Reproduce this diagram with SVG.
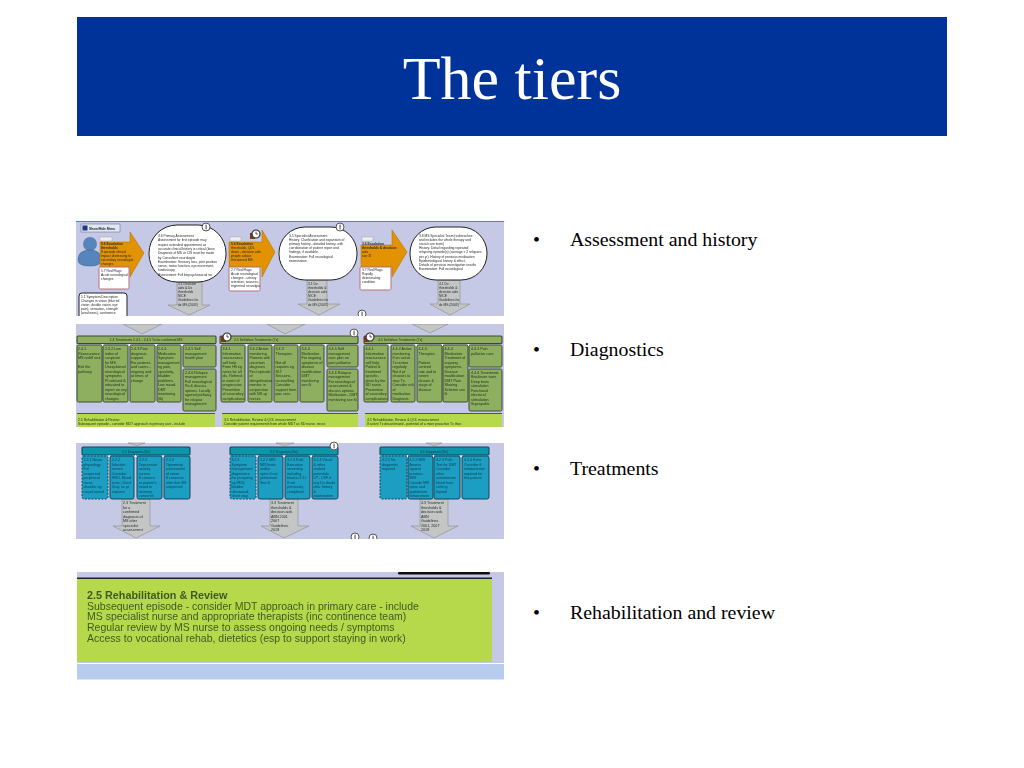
<svg xmlns="http://www.w3.org/2000/svg" width="1024" height="768" viewBox="0 0 1024 768">
<defs>
<filter id="soft" x="-2%" y="-2%" width="104%" height="104%"><feGaussianBlur stdDeviation="0.35"/></filter>
<g id="info"><circle r="4" fill="#fff" stroke="#555" stroke-width="1"/><rect x="-0.5" y="-2.4" width="1.1" height="4.8" fill="#555"/></g>
<g id="clock"><rect x="-6" y="-1" width="5" height="6" fill="#7a3a10"/><circle r="4" fill="#fff" stroke="#333" stroke-width="1.2"/><path d="M0-2.5V0H2" fill="none" stroke="#333" stroke-width=".8"/></g>
</defs>
<style>
.bg{fill:#c6c9e6}
.t{font-family:"Liberation Sans",Arial,sans-serif;font-size:3.3px;fill:#2a2a2a}
.a{font-family:"Liberation Sans",Arial,sans-serif;font-size:3.7px;fill:#2a2a2a}
.d{font-family:"Liberation Sans",Arial,sans-serif;font-size:3.6px;fill:#123f52}
.g{font-family:"Liberation Sans",Arial,sans-serif;font-size:3.7px;fill:#24351a}
.s{font-family:"Liberation Sans",Arial,sans-serif;font-size:3.4px;fill:#24351a}
.bub{fill:#fff;stroke:#222;stroke-width:1}
.org{fill:#e39200;stroke:#a86c00;stroke-width:.5}
.flag{fill:#fff;stroke:#b8707a;stroke-width:1}
.arr{fill:#c4c6c6;stroke:#8a8a8a;stroke-width:.6}
.hg{fill:#8eae60;stroke:#3c4c34;stroke-width:1.1}
.bg2{fill:#8eae60;stroke:#3c4c34;stroke-width:1}
.ht{fill:#0c95aa;stroke:#17475a;stroke-width:1.1}
.bt{fill:#1d9dc2;stroke:#17475a;stroke-width:1}
.dash{fill:#1d9dc2;stroke:#17475a;stroke-width:1;stroke-dasharray:2 1.3}
.lime{fill:#b6d94c}
.bar{fill:#4a5a40}
.k{fill:#fff}
.ttl{font-family:"Liberation Serif","Times New Roman",serif;font-size:62px;fill:#fff}
.bl{font-family:"Liberation Serif","Times New Roman",serif;font-size:19.85px;fill:#000}
.r{font-family:"Liberation Sans",Arial,sans-serif;font-size:10.5px;fill:#3d5a22}
</style>
<rect width="1024" height="768" fill="#fff"/>
<g id="title"><rect x="77" y="17" width="870" height="119" fill="#003399"/><text class="ttl" x="512" y="99" text-anchor="middle">The tiers</text></g>
<g id="bullets">
<g id="bullet-1"><text class="bl" x="533" y="246">•</text><text class="bl" x="570" y="246">Assessment and history</text></g>
<g id="bullet-2"><text class="bl" x="533" y="356">•</text><text class="bl" x="570" y="356">Diagnostics</text></g>
<g id="bullet-3"><text class="bl" x="533" y="475">•</text><text class="bl" x="570" y="475">Treatments</text></g>
<g id="bullet-4"><text class="bl" x="533" y="619">•</text><text class="bl" x="570" y="619">Rehabilitation and review</text></g>
</g>
<g filter="url(#soft)">
<rect class="bg" x="76" y="221" width="428" height="95"/>
<rect x="76" y="221" width="428" height="1" fill="#2a9a9a"/>
<rect class="bg" x="76" y="324" width="428" height="103"/>
<rect class="bg" x="76" y="443" width="428" height="96"/>
<g id="connectors">
<polygon class="arr" points="177,282 202,282 202,305 210,305 189,315 168,305 177,305"/>
<polygon class="arr" points="307,280 327,280 327,304 340,304 319,315 298,304 307,304"/>
<polygon class="arr" points="438,280 460,280 460,304 470,304 450,315 430,304 438,304"/>
<polygon class="arr" points="123,324 162,324 142,334"/>
<polygon class="arr" points="267,324 305,324 285,334"/>
<polygon class="arr" points="412,324 448,324 430,333"/>
<polygon class="arr" points="128,443 145,443 137,445.500"/>
<polygon class="arr" points="276,443 294,443 285,445.500"/>
<polygon class="arr" points="426,443 442,443 434,445.500"/>
<polygon class="arr" points="122,499 150,499 150,526 160,526 136,538 113,526 122,526"/>
<polygon class="arr" points="270,499 298,499 298,526 309,526 284,538 261,526 270,526"/>
<polygon class="arr" points="420,499 448,499 448,526 458,526 434,538 411,526 420,526"/>
</g>
<g id="menu"><rect x="81" y="224" width="39" height="8" fill="#dfe6f4" stroke="#667" stroke-width=".5"/><rect x="82.500" y="225.500" width="5" height="5" fill="#123a8a"/><text class="t" x="89" y="229.500" style="font-weight:bold">Show/Hide Menu</text></g>
<g id="person"><circle cx="90" cy="244" r="7" fill="#5585bb"/><path d="M78 260Q78 250 90 250Q101 250 101 260Q101 266 90 266Q78 266 78 260Z" fill="#5585bb" stroke="#2f5a8a" stroke-width=".5"/></g>
<g id="symptom"><rect x="79" y="293" width="48" height="26" rx="3" fill="#fff" stroke="#222"/><text class="t" x="81" y="298">5.1 Symptom Description<tspan x="81" dy="4.100">Changes in vision (blurred</tspan><tspan x="81" dy="4.100">vision, double vision, eye</tspan><tspan x="81" dy="4.100">pain), sensation, strength</tspan><tspan x="81" dy="4.100">(weakness), continence</tspan></text></g>
<g id="escalation-1"><polygon class="org" points="100,242 130,242 130,232 144,253 130,277 130,267 100,267"/><rect x="100" y="237" width="12" height="4" fill="#eee" stroke="#999" stroke-width=".4"/><text class="t" x="101" y="245" style="font-weight:bold">5.6 Escalation<tspan x="101" dy="3.900">thresholds</tspan><tspan x="101" dy="3.900" style="font-weight:normal">If episode clinical</tspan><tspan x="101" dy="3.900" style="font-weight:normal">impact distressing to</tspan><tspan x="101" dy="3.900" style="font-weight:normal">secondary neurologist</tspan><tspan x="101" dy="3.900" style="font-weight:normal">changes</tspan></text></g>
<g id="flag-1"><rect class="flag" x="99" y="267" width="30" height="22" rx="1.500"/><text class="t" x="101" y="272">5.7 Red Flags<tspan x="101" dy="4">Acute neurological</tspan><tspan x="101" dy="4">changes</tspan></text></g>
<g id="primary"><rect class="bub" x="149" y="225" width="77" height="57" rx="28"/><text class="t" x="158" y="237">3.6 Primary Assessment<tspan x="158" dy="4.300">Assessment for first episode may</tspan><tspan x="158" dy="4.300">require extended appointment as</tspan><tspan x="158" dy="4.300">accurate clinical history is critical (base</tspan><tspan x="158" dy="4.300">Diagnosis of MS or CIS must be made</tspan><tspan x="158" dy="4.300">by Consultant neurologist</tspan><tspan x="158" dy="4.300">Examination: Sensory loss, joint position</tspan><tspan x="158" dy="4.300">sense, motor function, eye movement,</tspan><tspan x="158" dy="4.300">fundoscopy</tspan><tspan x="158" dy="4.300">Assessment: Full biopsychosocial inc</tspan></text><use href="#info" x="206" y="227"/></g>
<g id="decision-1"><text class="t" x="178" y="284.500">3.1 Decision<tspan x="178" dy="4.200">aids &amp; Dx</tspan><tspan x="178" dy="4.200">thresholds</tspan><tspan x="178" dy="4.200">NICE</tspan><tspan x="178" dy="4.200">Guidelines for</tspan><tspan x="178" dy="4.200">dx MS (2003)</tspan></text></g>
<g id="escalation-2"><polygon class="org" points="229,242 262,242 262,230 275,252 262,277 262,267 229,267"/><rect x="230" y="237" width="11" height="4" fill="#eee" stroke="#999" stroke-width=".4"/><text class="t" x="231" y="245" style="font-weight:bold">5.6 Escalation<tspan x="231" dy="4" style="font-weight:normal">thresholds, QDL</tspan><tspan x="231" dy="4" style="font-weight:normal">down - decision aids</tspan><tspan x="231" dy="4" style="font-weight:normal">people advice</tspan><tspan x="231" dy="4" style="font-weight:normal">threatened MS</tspan></text><use href="#clock" x="256" y="234"/></g>
<g id="flag-2"><rect class="flag" x="229" y="267" width="31" height="24" rx="1.500"/><text class="t" x="231" y="271">2.7 Red Flags<tspan x="231" dy="4">Acute neurological</tspan><tspan x="231" dy="4">changes - urinary</tspan><tspan x="231" dy="4">retention, seizures,</tspan><tspan x="231" dy="4">trigeminal neuralgia</tspan></text></g>
<g id="specialist"><rect class="bub" x="279" y="227" width="78" height="53" rx="26"/><text class="t" x="289" y="237">3.5 Specialist Assessment<tspan x="289" dy="4.100">History: Clarification and expansion of</tspan><tspan x="289" dy="4.100">primary history - detailed history, with</tspan><tspan x="289" dy="4.100">corroboration of patient report and</tspan><tspan x="289" dy="4.100">findings, if available.</tspan><tspan x="289" dy="4.100">Examination: Full neurological</tspan><tspan x="289" dy="4.100">examination</tspan></text><use href="#info" x="340" y="227"/></g>
<g id="decision-2"><text class="t" x="308" y="284.500">3.1 Dx<tspan x="308" dy="4.200">thresholds &amp;</tspan><tspan x="308" dy="4.200">decision aids</tspan><tspan x="308" dy="4.200">NICE</tspan><tspan x="308" dy="4.200">Guidelines for</tspan><tspan x="308" dy="4.200">dx MS (2003)</tspan></text></g>
<g id="escalation-3"><polygon class="org" points="361,245 392,245 392,230 407,252 392,277 392,267 361,267"/><rect x="362" y="237" width="11" height="4" fill="#eee" stroke="#999" stroke-width=".4"/><text class="t" x="362" y="245" style="font-weight:bold">3.6 Escalation<tspan x="362" dy="4">thresholds &amp; decision</tspan><tspan x="362" dy="4" style="font-weight:normal">aids</tspan><tspan x="362" dy="4" style="font-weight:normal">see 3I</tspan></text></g>
<g id="flag-3"><rect class="flag" x="360" y="267" width="31" height="23" rx="1.500"/><text class="t" x="362" y="271">3.7 Red Flags<tspan x="362" dy="4">Rapidly</tspan><tspan x="362" dy="4">deteriorating</tspan><tspan x="362" dy="4">condition</tspan></text></g>
<g id="ms-team"><rect class="bub" x="410" y="227" width="77" height="53" rx="26"/><text class="t" x="419" y="237">3.8 MS Specialist Team (subreaches<tspan x="419" dy="4.100">and includes the whole therapy and</tspan><tspan x="419" dy="4.100">social care team)</tspan><tspan x="419" dy="4.100">History: Detail regarding repeated</tspan><tspan x="419" dy="4.100">relapsing episode(s) (average &gt; 2 relapses</tspan><tspan x="419" dy="4.100">per yr). History of previous medication</tspan><tspan x="419" dy="4.100">Epidemiological history &amp; effect.</tspan><tspan x="419" dy="4.100">Details of previous investigation results</tspan><tspan x="419" dy="4.100">Examination: Full neurological</tspan></text></g>
<g id="decision-3"><text class="t" x="439" y="284.500">4.1 Dx<tspan x="439" dy="4.200">thresholds &amp;</tspan><tspan x="439" dy="4.200">decision aids</tspan><tspan x="439" dy="4.200">NICE</tspan><tspan x="439" dy="4.200">Guidelines for</tspan><tspan x="439" dy="4.200">dx MS (2003)</tspan></text></g>
<use href="#info" x="362" y="314"/>
<rect x="76" y="316" width="430" height="8" fill="#fff"/>
<g id="tx-1">
<rect class="hg" x="77" y="336" width="139" height="7.500" rx="1"/><text class="s" x="146" y="341" text-anchor="middle">2.4 Treatments 2.4.1 - 2.4.5 To for confirmed MS</text>
<rect class="bg2" x="77" y="345" width="25" height="57" rx="1.500"/><text class="g" x="78" y="350">2.4.1<tspan x="78" dy="4.500">Reassurance</tspan><tspan x="78" dy="4.500">MS nidell visit</tspan><tspan x="78" dy="9">Exit the</tspan><tspan x="78" dy="4.500">pathway</tspan></text>
<rect class="bg2" x="103" y="345" width="25" height="57" rx="1.500"/><text class="g" x="105" y="350">2.4.2 Low<tspan x="105" dy="4.500">index of</tspan><tspan x="105" dy="4.500">suspicion</tspan><tspan x="105" dy="4.500">for MS</tspan><tspan x="105" dy="4.500">Unexplained</tspan><tspan x="105" dy="4.500">neurological</tspan><tspan x="105" dy="4.500">symptoms</tspan><tspan x="105" dy="4.500">Pt advised &amp;</tspan><tspan x="105" dy="4.500">educated to</tspan><tspan x="105" dy="4.500">report on any</tspan><tspan x="105" dy="4.500">neurological</tspan><tspan x="105" dy="4.500">changes</tspan></text>
<rect class="bg2" x="130" y="345" width="25" height="57" rx="1.500"/><text class="g" x="131" y="350">2.4.3 Post<tspan x="131" dy="4.500">diagnosis</tspan><tspan x="131" dy="4.500">support</tspan><tspan x="131" dy="4.500">For patients</tspan><tspan x="131" dy="4.500">and carers -</tspan><tspan x="131" dy="4.500">ongoing and</tspan><tspan x="131" dy="4.500">at times of</tspan><tspan x="131" dy="4.500">change</tspan></text>
<rect class="bg2" x="157" y="345" width="24" height="57" rx="1.500"/><text class="g" x="158" y="350">2.4.4<tspan x="158" dy="4.500">Medication</tspan><tspan x="158" dy="4.500">Symptom</tspan><tspan x="158" dy="4.500">management</tspan><tspan x="158" dy="4.500">eg pain,</tspan><tspan x="158" dy="4.500">spasticity,</tspan><tspan x="158" dy="4.500">bladder</tspan><tspan x="158" dy="4.500">problems.</tspan><tspan x="158" dy="4.500">Low mood.</tspan><tspan x="158" dy="4.500">DMT</tspan><tspan x="158" dy="4.500">monitoring</tspan><tspan x="158" dy="4.500">(6i)</tspan></text>
<rect class="bg2" x="183" y="345" width="33" height="22" rx="1.500"/><text class="g" x="185" y="350">2.4.5 Self<tspan x="185" dy="4.500">management</tspan><tspan x="185" dy="4.500">health plan</tspan></text>
<rect class="bg2" x="183" y="369" width="33" height="42" rx="1.500"/><text class="g" x="185" y="373.500">2.4.6 Relapse<tspan x="185" dy="4.500">management</tspan><tspan x="185" dy="4.500">Full neurological</tspan><tspan x="185" dy="4.500">Rx &amp; discuss</tspan><tspan x="185" dy="4.500">options. Locally</tspan><tspan x="185" dy="4.500">agreed pathway</tspan><tspan x="185" dy="4.500">for relapse</tspan><tspan x="185" dy="4.500">management</tspan></text>
<rect class="k" x="102" y="344" width="1.200" height="2"/><rect class="k" x="128.800" y="344" width="1.200" height="2"/><rect class="k" x="155.500" y="344" width="1.200" height="2"/><rect class="k" x="181.500" y="344" width="1.200" height="2"/>
</g>
<g id="tx-2">
<rect class="hg" x="220" y="336" width="138" height="7.500" rx="1"/><text class="s" x="234" y="341">2.4 Definitive Treatments (Tx)</text><use href="#clock" x="227" y="337"/>
<rect class="bg2" x="221" y="345" width="24" height="57" rx="1.500"/><text class="g" x="222.500" y="350">3.4.1<tspan x="222.500" dy="4.500">Information</tspan><tspan x="222.500" dy="4.500">reassurance</tspan><tspan x="222.500" dy="4.500">self help</tspan><tspan x="222.500" dy="4.500">From HIt eg</tspan><tspan x="222.500" dy="4.500">notes for all</tspan><tspan x="222.500" dy="4.500">dis. Referral</tspan><tspan x="222.500" dy="4.500">in event of</tspan><tspan x="222.500" dy="4.500">progressive.</tspan><tspan x="222.500" dy="4.500">Prevention</tspan><tspan x="222.500" dy="4.500">of secondary</tspan><tspan x="222.500" dy="4.500">complications</tspan></text>
<rect class="bg2" x="248" y="345" width="24" height="57" rx="1.500"/><text class="g" x="249.500" y="350">3.4.2 Active<tspan x="249.500" dy="4.500">monitoring</tspan><tspan x="249.500" dy="4.500">Patients with</tspan><tspan x="249.500" dy="4.500">uncertain</tspan><tspan x="249.500" dy="4.500">diagnosis</tspan><tspan x="249.500" dy="4.500">First episode</tspan><tspan x="249.500" dy="4.500">of</tspan><tspan x="249.500" dy="4.500">demyelination</tspan><tspan x="249.500" dy="4.500">monitor in</tspan><tspan x="249.500" dy="4.500">conjunction</tspan><tspan x="249.500" dy="4.500">with NS sp</tspan><tspan x="249.500" dy="4.500">nurses</tspan></text>
<rect class="bg2" x="274" y="345" width="24" height="57" rx="1.500"/><text class="g" x="275.500" y="350">3.4.3<tspan x="275.500" dy="4.500">Therapies</tspan><tspan x="275.500" dy="9">Not all</tspan><tspan x="275.500" dy="4.500">requires eg</tspan><tspan x="275.500" dy="4.500">SLT</tspan><tspan x="275.500" dy="4.500">Sessions,</tspan><tspan x="275.500" dy="4.500">counselling</tspan><tspan x="275.500" dy="4.500">Consider</tspan><tspan x="275.500" dy="4.500">support from</tspan><tspan x="275.500" dy="4.500">pwc serv.</tspan></text>
<rect class="bg2" x="300" y="345" width="24" height="57" rx="1.500"/><text class="g" x="301.500" y="350">3.4.4<tspan x="301.500" dy="4.500">Medication</tspan><tspan x="301.500" dy="4.500">For ongoing</tspan><tspan x="301.500" dy="4.500">symptoms of</tspan><tspan x="301.500" dy="4.500">disease</tspan><tspan x="301.500" dy="4.500">modification</tspan><tspan x="301.500" dy="4.500">DMT</tspan><tspan x="301.500" dy="4.500">monitoring</tspan><tspan x="301.500" dy="4.500">see 6i</tspan></text>
<rect class="bg2" x="327" y="345" width="31" height="22" rx="1.500"/><text class="g" x="328.500" y="350">3.4.5 Self<tspan x="328.500" dy="4.500">management</tspan><tspan x="328.500" dy="4.500">care plan on</tspan><tspan x="328.500" dy="4.500">pain palliative</tspan></text>
<rect class="bg2" x="327" y="369" width="31" height="42" rx="1.500"/><text class="g" x="328.500" y="373.500">3.4.6 Relapse<tspan x="328.500" dy="4.500">management</tspan><tspan x="328.500" dy="4.500">For neurological</tspan><tspan x="328.500" dy="4.500">assessment &amp;</tspan><tspan x="328.500" dy="4.500">discuss options.</tspan><tspan x="328.500" dy="4.500">Medication - DMT</tspan><tspan x="328.500" dy="4.500">monitoring see 6i</tspan></text>
<rect class="k" x="246" y="344" width="1.200" height="2"/><rect class="k" x="272.500" y="344" width="1.200" height="2"/><rect class="k" x="298.500" y="344" width="1.200" height="2"/><rect class="k" x="325" y="344" width="1.200" height="2"/>
<use href="#info" x="354" y="333"/>
</g>
<g id="tx-3">
<rect class="hg" x="364" y="336" width="138" height="7.500" rx="1"/><text class="s" x="378" y="341">4.4 Definitive Treatments (Tx)</text><use href="#clock" x="370" y="337"/>
<rect class="bg2" x="364" y="345" width="24" height="57" rx="1.500"/><text class="g" x="365.500" y="350">4.4.1<tspan x="365.500" dy="4.500">Information</tspan><tspan x="365.500" dy="4.500">reassurance</tspan><tspan x="365.500" dy="4.500">self help</tspan><tspan x="365.500" dy="4.500">Patient &amp;</tspan><tspan x="365.500" dy="4.500">treatment</tspan><tspan x="365.500" dy="4.500">specific,</tspan><tspan x="365.500" dy="4.500">given by the</tspan><tspan x="365.500" dy="4.500">SD nurse.</tspan><tspan x="365.500" dy="4.500">Prevention</tspan><tspan x="365.500" dy="4.500">of secondary</tspan><tspan x="365.500" dy="4.500">complications</tspan></text>
<rect class="bg2" x="391" y="345" width="24" height="57" rx="1.500"/><text class="g" x="392.500" y="350">4.4.2 Active<tspan x="392.500" dy="4.500">monitoring</tspan><tspan x="392.500" dy="4.500">If on active</tspan><tspan x="392.500" dy="4.500">Tx review</tspan><tspan x="392.500" dy="4.500">regularly</tspan><tspan x="392.500" dy="4.500">Not if pt</tspan><tspan x="392.500" dy="4.500">chooses to</tspan><tspan x="392.500" dy="4.500">stop Tx.</tspan><tspan x="392.500" dy="4.500">Consider risk</tspan><tspan x="392.500" dy="4.500">of</tspan><tspan x="392.500" dy="4.500">medication</tspan><tspan x="392.500" dy="4.500">Diagnosis</tspan></text>
<rect class="bg2" x="417" y="345" width="25" height="57" rx="1.500"/><text class="g" x="418.500" y="350">4.4.3<tspan x="418.500" dy="4.500">Therapies</tspan><tspan x="418.500" dy="9">Patient</tspan><tspan x="418.500" dy="4.500">centred</tspan><tspan x="418.500" dy="4.500">rate and to</tspan><tspan x="418.500" dy="4.500">extent</tspan><tspan x="418.500" dy="4.500">chosen &amp;</tspan><tspan x="418.500" dy="4.500">stage of</tspan><tspan x="418.500" dy="4.500">disease</tspan></text>
<rect class="bg2" x="443" y="345" width="25" height="57" rx="1.500"/><text class="g" x="444.500" y="350">4.4.4<tspan x="444.500" dy="4.500">Medication</tspan><tspan x="444.500" dy="4.500">Treatment of</tspan><tspan x="444.500" dy="4.500">ongoing</tspan><tspan x="444.500" dy="4.500">symptoms</tspan><tspan x="444.500" dy="4.500">Disease</tspan><tspan x="444.500" dy="4.500">modification</tspan><tspan x="444.500" dy="4.500">DMT Pain</tspan><tspan x="444.500" dy="4.500">Sharing</tspan><tspan x="444.500" dy="4.500">Scheme see</tspan><tspan x="444.500" dy="4.500">6i</tspan></text>
<rect class="bg2" x="469" y="345" width="33" height="22" rx="1.500"/><text class="g" x="471" y="350">4.4.5 Pain<tspan x="471" dy="4.500">palliative care</tspan></text>
<rect class="bg2" x="469" y="369" width="33" height="42" rx="1.500"/><text class="g" x="471" y="373.500">4.4.6 Treatments<tspan x="471" dy="4.500">Botulinum toxin</tspan><tspan x="471" dy="4.500">Deep brain</tspan><tspan x="471" dy="4.500">stimulation</tspan><tspan x="471" dy="4.500">Functional</tspan><tspan x="471" dy="4.500">electrical</tspan><tspan x="471" dy="4.500">stimulation</tspan><tspan x="471" dy="4.500">Suprapubic</tspan></text>
<rect class="k" x="389" y="344" width="1.200" height="2"/><rect class="k" x="415.500" y="344" width="1.200" height="2"/><rect class="k" x="442" y="344" width="1" height="2"/><rect class="k" x="468" y="344" width="1" height="2"/>
</g>
<g id="rehab-1"><rect class="lime" x="77" y="413" width="138" height="14"/><rect class="bar" x="77" y="413" width="138" height="1"/><text class="s" x="78" y="421">2.5 Rehabilitation &amp; Review<tspan x="78" dy="4">Subsequent episode - consider MDT approach in primary care - include</tspan></text></g>
<g id="rehab-2"><rect class="lime" x="222" y="413" width="136" height="14"/><rect class="bar" x="222" y="413" width="136" height="1"/><text class="s" x="224" y="421">3.5 Rehabilitation, Review &amp; QOL measurement<tspan x="224" dy="4">Consider patient requirements from whole MDT as SD nurse, neuro</tspan></text></g>
<g id="rehab-3"><rect class="lime" x="365" y="413" width="137" height="14"/><rect class="bar" x="365" y="413" width="137" height="1"/><text class="s" x="367" y="421">4.5 Rehabilitation, Review &amp; QOL measurement<tspan x="367" dy="4">If active Tx discontinued - potential of a more proactive Tx than</tspan></text></g>
<g id="dx-1">
<rect class="ht" x="82" y="447" width="108" height="8" rx="1"/><text class="s" x="136" y="452.500" text-anchor="middle" style="fill:#123f52">2.2 Diagnosis (Dx)</text>
<rect class="dash" x="82" y="456" width="26" height="43" rx="2"/><text class="d" x="83.500" y="461">2.2.1 Neuro<tspan x="83.500" dy="4.500">physiology</tspan><tspan x="83.500" dy="4.500">For</tspan><tspan x="83.500" dy="4.500">suspected</tspan><tspan x="83.500" dy="4.500">peripheral</tspan><tspan x="83.500" dy="4.500">nerve</tspan><tspan x="83.500" dy="4.500">disorder eg</tspan><tspan x="83.500" dy="4.500">carpal tunnel</tspan></text>
<rect class="bt" x="110" y="456" width="24" height="43" rx="2"/><text class="d" x="112" y="461">2.2.2<tspan x="112" dy="4.500">Infection</tspan><tspan x="112" dy="4.500">screen</tspan><tspan x="112" dy="4.500">Consider</tspan><tspan x="112" dy="4.500">RRU, Blood</tspan><tspan x="112" dy="4.500">tests, Chest</tspan><tspan x="112" dy="4.500">Xray, as pt</tspan><tspan x="112" dy="4.500">requires</tspan></text>
<rect class="bt" x="137" y="456" width="25" height="43" rx="2"/><text class="d" x="139" y="461">2.2.3<tspan x="139" dy="4.500">Depression</tspan><tspan x="139" dy="4.500">anxiety</tspan><tspan x="139" dy="4.500">screen</tspan><tspan x="139" dy="4.500">If concern</tspan><tspan x="139" dy="4.500">re patient's</tspan><tspan x="139" dy="4.500">mood or</tspan><tspan x="139" dy="4.500">memory</tspan><tspan x="139" dy="4.500">concerns</tspan></text>
<rect class="bt" x="164" y="456" width="26" height="43" rx="2"/><text class="d" x="166" y="461">2.2.4<tspan x="166" dy="4.500">Optometry</tspan><tspan x="166" dy="4.500">assessment</tspan><tspan x="166" dy="4.500">of vision</tspan><tspan x="166" dy="4.500">If concerns</tspan><tspan x="166" dy="4.500" style="font-size:3.2px">other than MS</tspan><tspan x="166" dy="4.500">suspected</tspan></text>
<rect class="k" x="108.500" y="455" width="1.200" height="2"/><rect class="k" x="135" y="455" width="1.200" height="2"/><rect class="k" x="162.500" y="455" width="1.200" height="2"/>
</g>
<g id="dx-1-tx"><text class="a" x="123" y="504">2.3 Treatment<tspan x="123" dy="4.500">for a</tspan><tspan x="123" dy="4.500">confirmed</tspan><tspan x="123" dy="4.500">diagnosis of</tspan><tspan x="123" dy="4.500">MS after</tspan><tspan x="123" dy="4.500">specialist</tspan><tspan x="123" dy="4.500">assessment</tspan></text></g>
<g id="dx-2">
<rect class="ht" x="230" y="447" width="108" height="8" rx="1"/><text class="s" x="284" y="452.500" text-anchor="middle" style="fill:#123f52">3.2 Diagnosis (Dx)</text>
<rect class="dash" x="230" y="456" width="26" height="43" rx="2"/><text class="d" x="231.500" y="461">3.2.1<tspan x="231.500" dy="4.500">Symptom</tspan><tspan x="231.500" dy="4.500">management</tspan><tspan x="231.500" dy="4.500">diagnostics</tspan><tspan x="231.500" dy="4.500" style="font-size:3.1px">For pt requiring</tspan><tspan x="231.500" dy="4.500">eg RRU,</tspan><tspan x="231.500" dy="4.500">bladder</tspan><tspan x="231.500" dy="4.500">ultrasound,</tspan><tspan x="231.500" dy="4.500">chest xray</tspan></text>
<rect class="bt" x="258" y="456" width="25" height="43" rx="2"/><text class="d" x="260" y="461">3.2.2 MRI<tspan x="260" dy="4.500">MRI brain</tspan><tspan x="260" dy="4.500">and/or</tspan><tspan x="260" dy="4.500">spine if not</tspan><tspan x="260" dy="4.500">performed</tspan><tspan x="260" dy="4.500">See 6i</tspan></text>
<rect class="bt" x="285" y="456" width="25" height="43" rx="2"/><text class="d" x="287" y="461">3.2.3 Path<tspan x="287" dy="4.500">Execution</tspan><tspan x="287" dy="4.500">screening</tspan><tspan x="287" dy="4.500">including</tspan><tspan x="287" dy="4.500" style="font-size:3.1px">blood as 3.3.2</tspan><tspan x="287" dy="4.500">If not</tspan><tspan x="287" dy="4.500">previously</tspan><tspan x="287" dy="4.500">completed</tspan></text>
<rect class="bt" x="312" y="456" width="26" height="43" rx="2"/><text class="d" x="313.500" y="461">3.2.4 Visual<tspan x="313.500" dy="4.500">&amp; other</tspan><tspan x="313.500" dy="4.500">evoked</tspan><tspan x="313.500" dy="4.500">potentials</tspan><tspan x="313.500" dy="4.500">LP - CSF if</tspan><tspan x="313.500" dy="4.500">any Dx doubt</tspan><tspan x="313.500" dy="4.500">after history</tspan><tspan x="313.500" dy="4.500">&amp;</tspan><tspan x="313.500" dy="4.500">examination</tspan></text>
<rect class="k" x="256.500" y="455" width="1.200" height="2"/><rect class="k" x="283.500" y="455" width="1.200" height="2"/><rect class="k" x="310.500" y="455" width="1.200" height="2"/>
<use href="#info" x="334" y="446"/>
</g>
<g id="dx-2-tx"><text class="a" x="271" y="504">3.3 Treatment<tspan x="271" dy="4.500">thresholds &amp;</tspan><tspan x="271" dy="4.500">decision aids</tspan><tspan x="271" dy="4.500">ABN 2001</tspan><tspan x="271" dy="4.500">2007</tspan><tspan x="271" dy="4.500">Guidelines</tspan><tspan x="271" dy="4.500">2018</tspan></text></g>
<g id="dx-3">
<rect class="ht" x="380" y="447" width="109" height="8" rx="1"/><text class="s" x="434" y="452.500" text-anchor="middle" style="fill:#123f52">4.2 Diagnosis (Dx)</text>
<rect class="dash" x="380" y="456" width="27" height="43" rx="2"/><text class="d" x="382" y="461">4.2.1 No<tspan x="382" dy="4.500">diagnostic</tspan><tspan x="382" dy="4.500">required</tspan></text>
<rect class="bt" x="408" y="456" width="25" height="43" rx="2"/><text class="d" x="409.500" y="461">4.2.2 MRI<tspan x="409.500" dy="4.500">Assess</tspan><tspan x="409.500" dy="4.500">against</tspan><tspan x="409.500" dy="4.500">previous</tspan><tspan x="409.500" dy="4.500">MRI</tspan><tspan x="409.500" dy="4.500" style="font-size:3.2px">Consider MRI</tspan><tspan x="409.500" dy="4.500">spine and</tspan><tspan x="409.500" dy="4.500">gadolinium</tspan><tspan x="409.500" dy="4.500" style="font-size:3.2px">enhancement</tspan></text>
<rect class="bt" x="434" y="456" width="26" height="43" rx="2"/><text class="d" x="436" y="461">4.2.3 Path<tspan x="436" dy="4.500">Test for DMT</tspan><tspan x="436" dy="4.500">Consider</tspan><tspan x="436" dy="4.500">other</tspan><tspan x="436" dy="4.500">autoimmune</tspan><tspan x="436" dy="4.500">blood tests</tspan><tspan x="436" dy="4.500">clotting</tspan><tspan x="436" dy="4.500">thyroid</tspan></text>
<rect class="bt" x="462" y="456" width="27" height="43" rx="2"/><text class="d" x="464" y="461">4.2.4 Echo<tspan x="464" dy="4.500">Consider if</tspan><tspan x="464" dy="4.500">mitoxantrone</tspan><tspan x="464" dy="4.500">required for</tspan><tspan x="464" dy="4.500">this patient</tspan></text>
<rect class="k" x="407" y="455" width="1" height="2"/><rect class="k" x="433" y="455" width="1" height="2"/><rect class="k" x="460.500" y="455" width="1.200" height="2"/>
</g>
<g id="dx-3-tx"><text class="a" x="421" y="504">4.3 Treatment<tspan x="421" dy="4.500">thresholds &amp;</tspan><tspan x="421" dy="4.500">decision aids</tspan><tspan x="421" dy="4.500">ABN</tspan><tspan x="421" dy="4.500">Guidelines</tspan><tspan x="421" dy="4.500">2001, 2007</tspan><tspan x="421" dy="4.500">2018</tspan></text></g>
<use href="#info" x="355" y="537"/><use href="#info" x="373" y="538"/>
<rect x="76" y="539" width="430" height="5" fill="#fff"/>
<g id="rehabilitation">
<rect class="bg" x="77" y="572" width="427" height="91"/>
<rect x="398" y="572" width="92" height="2.500" rx="1.200" fill="#111"/>
<rect class="lime" x="77" y="579" width="415" height="83"/>
<rect x="77" y="577.500" width="415" height="1.500" fill="#222"/>
<rect x="77" y="664" width="427" height="15.500" fill="#b8cdee"/>
<text class="r" x="87" y="598.500" style="font-weight:bold;font-size:10.800px">2.5 Rehabilitation &amp; Review</text>
<text class="r" x="87" y="609.500">Subsequent episode - consider MDT approach in primary care - include</text>
<text class="r" x="87" y="620">MS specialist nurse and appropriate therapists (inc continence team)</text>
<text class="r" x="87" y="631">Regular review by MS nurse to assess ongoing needs / symptoms</text>
<text class="r" x="87" y="642">Access to vocational rehab, dietetics (esp to support staying in work)</text>
</g>
</g>
</svg>
